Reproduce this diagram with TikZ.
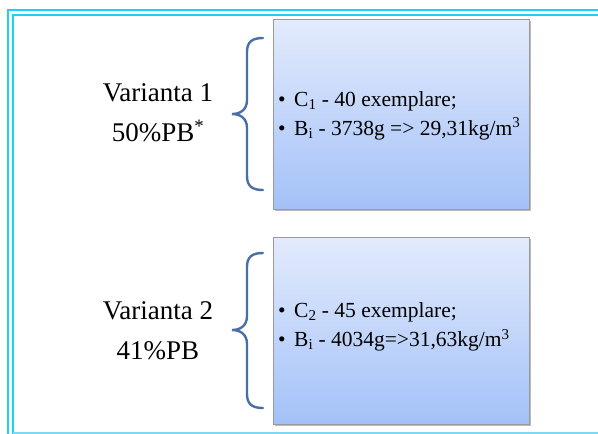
\documentclass[tikz,border=0pt]{standalone}
\usepackage{fontspec}
\setmainfont{Liberation Serif}
\usetikzlibrary{shadows}
\definecolor{framecyan}{HTML}{1CD0F8}
\definecolor{framelight}{HTML}{7FD8F2}
\definecolor{bracecol}{HTML}{4A6FA5}
\definecolor{boxtop}{HTML}{E3EBFC}
\definecolor{boxbot}{HTML}{A3C1F8}
\definecolor{boxedge}{HTML}{9A9A9A}
\tikzset{
  x=1pt, y=-1pt,
  infobox/.style={draw=boxedge, line width=0.8pt, top color=boxtop, bottom color=boxbot,
    minimum width=256pt, minimum height=190pt, anchor=north west,
    drop shadow={shadow xshift=2pt, shadow yshift=-2pt, fill=black!45, opacity=0.6}},
  boxtext/.style={anchor=west, align=left, font=\fontsize{21.5}{29}\selectfont, inner sep=0pt},
  vartext/.style={align=center, font=\fontsize{27}{40}\selectfont, inner sep=0pt},
  bracepath/.style={draw=bracecol, line width=2.4pt, line cap=round},
  frameline/.style={draw=framecyan, line width=2.3pt}
}
\newcommand{\bul}{\makebox[16pt][l]{\textbullet}}
\begin{document}
\begin{tikzpicture}
\useasboundingbox (0,0) rectangle (598,434);
% frame
\draw[frameline] (8.3,434) -- (8.3,10.3) -- (598,10.3);
\draw[frameline] (13.3,434) -- (13.3,15.2) -- (598,15.2);
\draw[draw=framelight, line width=1.5pt] (13.3,432.8) -- (598,432.8);
% boxes
\node[infobox] (b1) at (273,19) {};
\node[infobox, minimum height=187pt] (b2) at (273,237) {};
\node[boxtext] (t1) at ([xshift=5pt,yshift=-1pt]b1.west)
  {\bul C\textsubscript{1} - 40 exemplare;\\ \bul B\textsubscript{i} - 3738g => 29,31kg/m\textsuperscript{3}};
\node[boxtext] (t2) at ([xshift=5pt,yshift=4pt]b2.west)
  {\bul C\textsubscript{2} - 45 exemplare;\\ \bul B\textsubscript{i} - 4034g=>31,63kg/m\textsuperscript{3}};
% left labels
\node[vartext] (v1) at (158,113) {Varianta 1\\50\%PB\textsuperscript{*}};
\node[vartext] (v2) at (158,331) {Varianta 2\\41\%PB};
% braces
\coordinate (k1) at (232,114);
\coordinate (k2) at (232,330);
\draw[bracepath] (263,38) .. controls (252,38) and (247,42) .. (247,52) -- (247,100)
  .. controls (247,110) and (240,114) .. (k1) .. controls (240,114) and (247,118) .. (247,128)
  -- (247,176) .. controls (247,186) and (252,190) .. (263,190);
\draw[bracepath] (263,253) .. controls (252,253) and (247,257) .. (247,267) -- (247,316)
  .. controls (247,326) and (240,330) .. (k2) .. controls (240,330) and (247,334) .. (247,344)
  -- (247,394) .. controls (247,404) and (252,408) .. (263,408);
\end{tikzpicture}
\end{document}
